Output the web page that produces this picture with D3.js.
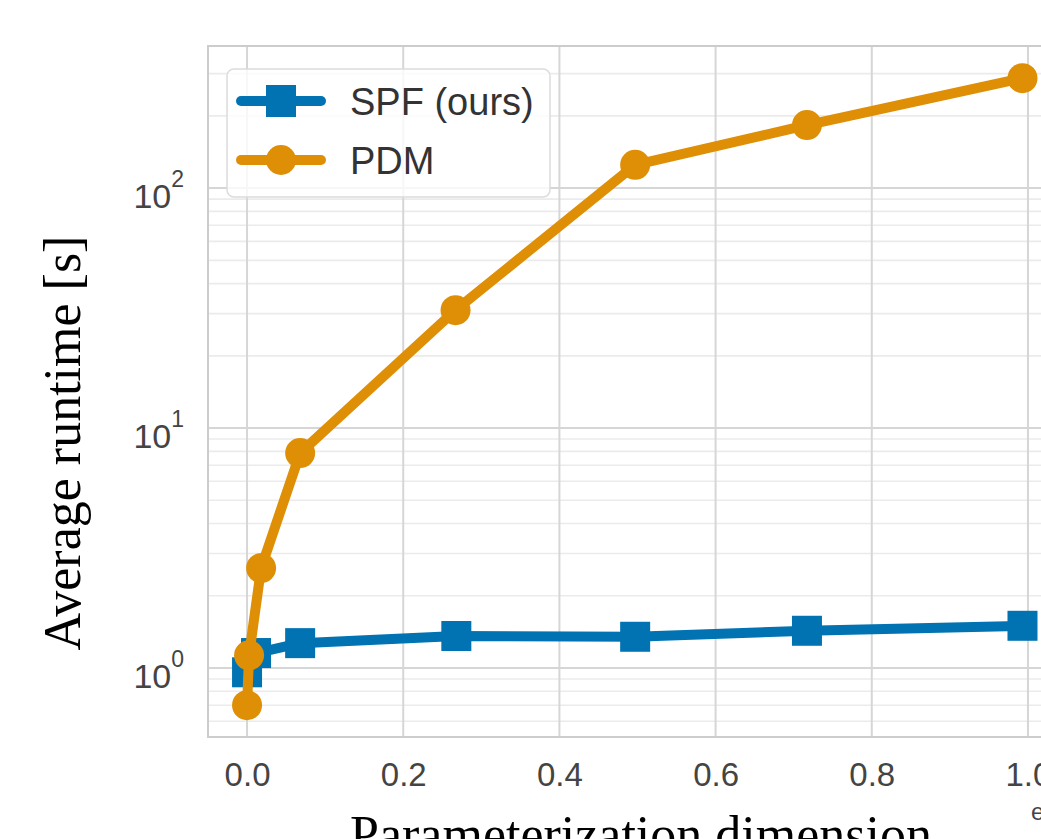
<!DOCTYPE html>
<html>
<head>
<meta charset="utf-8">
<script src="https://cdn.jsdelivr.net/npm/d3@7"></script>
<style>
  body { margin: 0; background: #fff; overflow: hidden; }
  svg { display: block; }
</style>
</head>
<body>
<svg id="chart" width="1041" height="839"></svg>
<script>
// values (x in units of 1e6)
var spfX = [0, 0.0115, 0.068, 0.268, 0.497, 0.717, 0.993];
var spfY = [0.96, 1.155, 1.27, 1.36, 1.35, 1.43, 1.50];
var pdmX = [0, 0.0026, 0.018, 0.068, 0.267, 0.497, 0.717, 0.993];
var pdmY = [0.70, 1.13, 2.61, 7.87, 31, 125, 183, 287];
var xTicks = [0, 0.2, 0.4, 0.6, 0.8, 1.0];
var yMajor = [1, 10, 100];
var seriesNames = ['SPF (ours)', 'PDM'];

var blue = '#0173B2', orange = '#DE8F05';

var plotLeft = 208, plotTop = 46, plotBottom = 737, plotRight = 1067;

var svg = d3.select('#chart');

var x = d3.scaleLinear().domain([-0.05, 1.05]).range([plotLeft, plotRight]);
var y = d3.scaleLog().domain([0.516, 391]).range([plotBottom, plotTop]);

// minor log grid
var yMinor = [];
[0.1, 1, 10, 100].forEach(function(d) {
  for (var k = 2; k < 10; k++) {
    var v = d * k;
    if (v > y.domain()[0] && v < y.domain()[1]) yMinor.push(v);
  }
});

var grid = svg.append('g').attr('class', 'grid');

grid.selectAll('line.minor')
    .data(yMinor).enter()
    .append('line')
    .attr('class', 'minor')
    .attr('x1', plotLeft).attr('x2', plotRight)
    .attr('y1', d => y(d)).attr('y2', d => y(d))
    .attr('stroke', '#ebebeb')
    .attr('stroke-width', 1.6);

grid.selectAll('line.ymajor')
    .data(yMajor).enter()
    .append('line')
    .attr('class', 'ymajor')
    .attr('x1', plotLeft).attr('x2', plotRight)
    .attr('y1', d => y(d)).attr('y2', d => y(d))
    .attr('stroke', '#d6d6d6')
    .attr('stroke-width', 2);

grid.selectAll('line.xmajor')
    .data(xTicks).enter()
    .append('line')
    .attr('class', 'xmajor')
    .attr('x1', d => x(d)).attr('x2', d => x(d))
    .attr('y1', plotTop).attr('y2', plotBottom)
    .attr('stroke', '#d6d6d6')
    .attr('stroke-width', 2);

// frame
svg.append('rect')
    .attr('x', plotLeft).attr('y', plotTop)
    .attr('width', plotRight - plotLeft).attr('height', plotBottom - plotTop)
    .attr('fill', 'none')
    .attr('stroke', '#cccccc')
    .attr('stroke-width', 2);

// x axis tick labels
var xAxis = d3.axisBottom(x).tickValues(xTicks).tickFormat(d3.format('.1f')).tickSize(0).tickPadding(26);
var gx = svg.append('g').attr('transform', 'translate(0,' + plotBottom + ')').call(xAxis);
gx.select('.domain').remove();
gx.selectAll('text')
    .attr('font-family', '"Liberation Sans", Arial, sans-serif')
    .attr('font-size', 33)
    .attr('fill', '#444');

// y axis tick labels 10^n
var gy = svg.append('g').attr('class', 'yticks');
gy.selectAll('text')
    .data(yMajor).enter()
    .append('text')
    .attr('x', 184)
    .attr('y', d => y(d) + 20)
    .attr('text-anchor', 'end')
    .attr('font-family', '"Liberation Sans", Arial, sans-serif')
    .attr('font-size', 34)
    .attr('fill', '#444')
    .each(function(d) {
      var t = d3.select(this);
      t.append('tspan').text('10');
      t.append('tspan')
        .attr('dy', -21)
        .attr('font-size', 23)
        .text(Math.round(Math.log10(d)));
    });

// offset text (cut off at the edge)
svg.append('text')
    .attr('x', 1031).attr('y', 820)
    .attr('font-family', '"Liberation Sans", Arial, sans-serif')
    .attr('font-size', 24)
    .attr('fill', '#444')
    .text('e6');

// axis labels
svg.append('text')
    .attr('transform', 'translate(80,443) rotate(-90)')
    .attr('text-anchor', 'middle')
    .attr('font-family', '"Liberation Serif", "Times New Roman", serif')
    .attr('font-size', 52)
    .attr('fill', '#000')
    .text('Average runtime [s]');

svg.append('text')
    .attr('x', 641).attr('y', 852)
    .attr('text-anchor', 'middle')
    .attr('font-family', '"Liberation Serif", "Times New Roman", serif')
    .attr('font-size', 52)
    .attr('fill', '#000')
    .text('Parameterization dimension');

// series
var line = d3.line().x(d => x(d[0])).y(d => y(d[1]));
var spf = d3.zip(spfX, spfY);
var pdm = d3.zip(pdmX, pdmY);

var plot = svg.append('g');

plot.append('path')
    .datum(spf)
    .attr('d', line)
    .attr('fill', 'none')
    .attr('stroke', blue)
    .attr('stroke-width', 10)
    .attr('stroke-linecap', 'round')
    .attr('stroke-linejoin', 'round');

plot.selectAll('rect.spf')
    .data(spf).enter()
    .append('rect')
    .attr('class', 'spf')
    .attr('x', d => x(d[0]) - 15).attr('y', d => y(d[1]) - 15)
    .attr('width', 30).attr('height', 30)
    .attr('fill', blue);

plot.append('path')
    .datum(pdm)
    .attr('d', line)
    .attr('fill', 'none')
    .attr('stroke', orange)
    .attr('stroke-width', 10)
    .attr('stroke-linecap', 'round')
    .attr('stroke-linejoin', 'round');

plot.selectAll('circle.pdm')
    .data(pdm).enter()
    .append('circle')
    .attr('class', 'pdm')
    .attr('cx', d => x(d[0])).attr('cy', d => y(d[1]))
    .attr('r', 15)
    .attr('fill', orange);

// legend
var legend = svg.append('g').attr('class', 'legend');
legend.append('rect')
    .attr('x', 227).attr('y', 69)
    .attr('width', 323).attr('height', 128)
    .attr('rx', 7).attr('ry', 7)
    .attr('fill', '#fff').attr('fill-opacity', 0.8)
    .attr('stroke', '#dcdcdc').attr('stroke-width', 1.5);

var colors = [blue, orange];
var rows = legend.selectAll('g.row')
    .data(seriesNames).enter()
    .append('g')
    .attr('class', 'row')
    .attr('transform', (d, i) => 'translate(0,' + (101 + i * 59) + ')');

rows.append('line')
    .attr('x1', 241).attr('x2', 321)
    .attr('stroke', (d, i) => colors[i])
    .attr('stroke-width', 10)
    .attr('stroke-linecap', 'round');

rows.filter((d, i) => i === 0).append('rect')
    .attr('x', 266).attr('y', -16).attr('width', 30).attr('height', 32)
    .attr('fill', blue);

rows.filter((d, i) => i === 1).append('circle')
    .attr('cx', 281).attr('r', 15)
    .attr('fill', orange);

rows.append('text')
    .attr('x', 350).attr('y', 14)
    .attr('font-family', '"Liberation Sans", Arial, sans-serif')
    .attr('font-size', 38)
    .attr('fill', '#333')
    .text(d => d);
</script>
</body>
</html>
